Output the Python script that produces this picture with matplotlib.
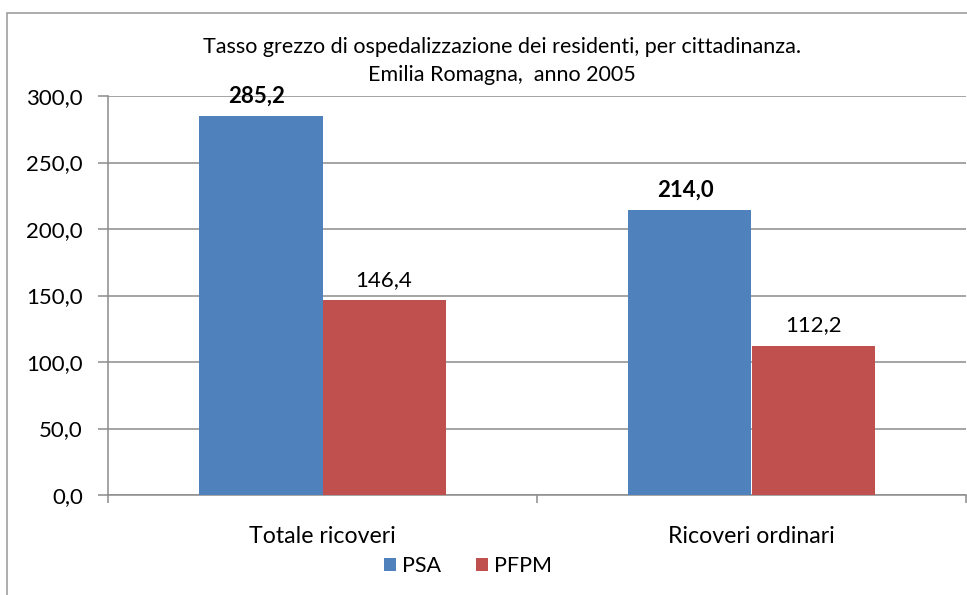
import matplotlib.pyplot as plt
import matplotlib.patches as patches
import numpy as np

plt.rcParams['font.family'] = ['Lato', 'DejaVu Sans']

categories = ['Totale ricoveri', 'Ricoveri ordinari']
psa = [285.2, 214.0]
pfpm = [146.4, 112.2]
yticks = [0, 50, 100, 150, 200, 250, 300]

blue = '#4F81BD'
red = '#C0504D'
grid = '#8c8c8c'

fig = plt.figure(figsize=(9.67, 5.95), dpi=100)
ax = fig.add_axes([108/967, 1 - 495/595, 858/967, 399/595])

# outer chart border
fig.patches.append(patches.Rectangle((7/967, -0.05), 1.2, 1 - 13/595 + 0.05,
                                     transform=fig.transFigure, fill=False,
                                     edgecolor='#a0a0a0', linewidth=1.2))

x = np.arange(len(categories))
w = 0.287
b1 = ax.bar(x - w/2, psa, w, color=blue, label='PSA', zorder=3)
b2 = ax.bar(x + w/2, pfpm, w, color=red, label='PFPM', zorder=3)

for rect, v in zip(b1, psa):
    ax.text(rect.get_x() + rect.get_width()/2 - 0.01, v + 7, f'{v:.1f}'.replace('.', ','),
            ha='center', va='bottom', fontsize=16, fontweight='bold')
for rect, v in zip(b2, pfpm):
    ax.text(rect.get_x() + rect.get_width()/2, v + 8, f'{v:.1f}'.replace('.', ','),
            ha='center', va='bottom', fontsize=16)

ax.set_xlim(-0.5, 1.5)
ax.set_ylim(0, 300)
ax.set_yticks(yticks)
ax.set_yticklabels([f'{t:.1f}'.replace('.', ',') for t in yticks], fontsize=16)
ax.yaxis.grid(True, color=grid, linewidth=1.1, zorder=0)
ax.set_xticks([-0.5, 0.5, 1.5])
ax.set_xticklabels([])
ax.set_xticks(x, minor=True)
ax.set_xticklabels(categories, minor=True, fontsize=16.7)
ax.tick_params(axis='x', which='minor', length=0, pad=22)
ax.tick_params(axis='x', which='major', length=6, color=grid, width=1.1)
ax.tick_params(axis='y', length=7, color=grid, width=1.1, pad=11)

for s in ['top', 'right']:
    ax.spines[s].set_visible(False)
for s in ['left', 'bottom']:
    ax.spines[s].set_color(grid)
    ax.spines[s].set_linewidth(1.1)

fig.text(502/967, 1 - 47/595, 'Tasso grezzo di ospedalizzazione dei residenti, per cittadinanza.',
         ha='center', va='center', fontsize=15.5)
fig.text(502/967, 1 - 75/595, 'Emilia Romagna,  anno 2005',
         ha='center', va='center', fontsize=15.5)

fig.legend(loc='center', bbox_to_anchor=(468/967, 1 - 566/595), ncol=2, frameon=False,
           fontsize=15.5, handlelength=0.55, handleheight=0.6, handletextpad=0.3,
           columnspacing=1.6)

fig.savefig('out.png', dpi=100)
